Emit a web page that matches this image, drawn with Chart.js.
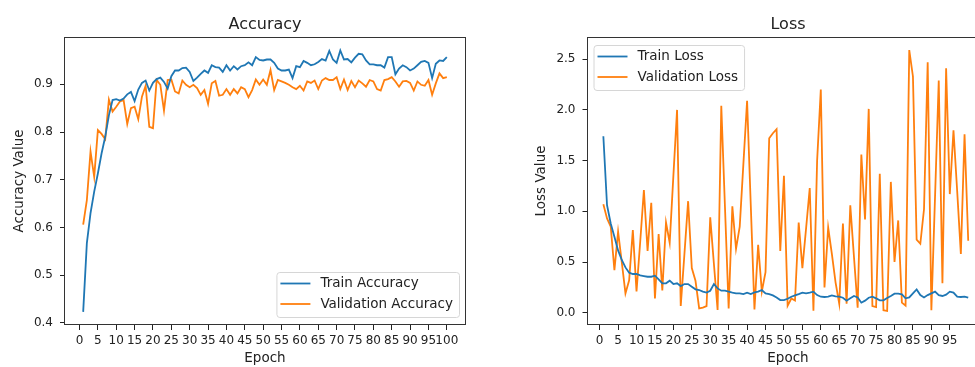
<!DOCTYPE html>
<html>
<head>
<meta charset="utf-8">
<script src="https://cdn.jsdelivr.net/npm/chart.js@4.4.1/dist/chart.umd.min.js"></script>
<style>
  html, body { margin: 0; padding: 0; background: #fff; overflow: hidden; }
  #wrap { position: relative; width: 975px; height: 367px; overflow: hidden; }
  canvas { position: absolute; top: 0; }
  #accChart { left: 0; }
  #lossChart { left: 490px; }
</style>
</head>
<body>
<div id="wrap">
  <canvas id="accChart" width="480" height="367"></canvas>
  <canvas id="lossChart" width="510" height="367"></canvas>
</div>
<script>
// epoch numbers (x values)
const epochs = [
  1, 2, 3, 4, 5, 6, 7, 8, 9, 10, 11, 12, 13, 14, 15, 16, 17, 18, 19, 20,
  21, 22, 23, 24, 25, 26, 27, 28, 29, 30, 31, 32, 33, 34, 35, 36, 37, 38, 39, 40,
  41, 42, 43, 44, 45, 46, 47, 48, 49, 50, 51, 52, 53, 54, 55, 56, 57, 58, 59, 60,
  61, 62, 63, 64, 65, 66, 67, 68, 69, 70, 71, 72, 73, 74, 75, 76, 77, 78, 79, 80,
  81, 82, 83, 84, 85, 86, 87, 88, 89, 90, 91, 92, 93, 94, 95, 96, 97, 98, 99, 100
];

// values
const trainAcc = [
  0.423, 0.567, 0.630, 0.675, 0.713, 0.755, 0.790, 0.835, 0.867, 0.869,
  0.866, 0.870, 0.879, 0.884, 0.865, 0.889, 0.903, 0.908, 0.887, 0.903,
  0.911, 0.914, 0.905, 0.891, 0.917, 0.929, 0.929, 0.934, 0.935, 0.926,
  0.907, 0.914, 0.922, 0.929, 0.924, 0.940, 0.936, 0.935, 0.926, 0.940,
  0.929, 0.938, 0.931, 0.938, 0.940, 0.946, 0.940, 0.957, 0.951, 0.950,
  0.952, 0.952, 0.945, 0.933, 0.929, 0.929, 0.931, 0.913, 0.938, 0.936,
  0.949, 0.945, 0.940, 0.942, 0.947, 0.953, 0.950, 0.970, 0.952, 0.945,
  0.971, 0.952, 0.953, 0.946, 0.956, 0.964, 0.963, 0.950, 0.942, 0.942,
  0.940, 0.940, 0.935, 0.957, 0.957, 0.921, 0.933, 0.940, 0.936, 0.929,
  0.933, 0.940, 0.947, 0.949, 0.945, 0.913, 0.943, 0.950, 0.949, 0.957
];
const valAcc = [
  0.606, 0.657, 0.759, 0.706, 0.804, 0.796, 0.785, 0.868, 0.843, 0.853,
  0.864, 0.867, 0.817, 0.850, 0.853, 0.827, 0.874, 0.897, 0.811, 0.808,
  0.909, 0.899, 0.845, 0.909, 0.910, 0.885, 0.881, 0.908, 0.899, 0.894,
  0.899, 0.892, 0.878, 0.888, 0.859, 0.902, 0.907, 0.876, 0.878, 0.890,
  0.878, 0.890, 0.881, 0.894, 0.890, 0.873, 0.888, 0.910, 0.899, 0.910,
  0.899, 0.930, 0.888, 0.909, 0.906, 0.903, 0.899, 0.894, 0.890, 0.897,
  0.887, 0.906, 0.903, 0.908, 0.890, 0.908, 0.913, 0.909, 0.909, 0.915,
  0.890, 0.910, 0.888, 0.907, 0.894, 0.908, 0.902, 0.895, 0.909, 0.906,
  0.890, 0.887, 0.909, 0.911, 0.915, 0.906, 0.895, 0.906, 0.907, 0.903,
  0.887, 0.906, 0.899, 0.897, 0.909, 0.878, 0.902, 0.923, 0.913, 0.915
];
const trainLoss = [
  1.740, 1.060, 0.880, 0.750, 0.615, 0.520, 0.447, 0.395, 0.382, 0.382,
  0.368, 0.362, 0.355, 0.355, 0.365, 0.329, 0.290, 0.290, 0.316, 0.283,
  0.290, 0.263, 0.283, 0.283, 0.257, 0.231, 0.224, 0.208, 0.198, 0.217,
  0.283, 0.240, 0.217, 0.217, 0.208, 0.198, 0.191, 0.191, 0.184, 0.198,
  0.184, 0.201, 0.208, 0.224, 0.191, 0.184, 0.171, 0.151, 0.125, 0.125,
  0.138, 0.158, 0.171, 0.184, 0.198, 0.191, 0.198, 0.208, 0.174, 0.158,
  0.155, 0.158, 0.171, 0.161, 0.158, 0.148, 0.119, 0.142, 0.165, 0.151,
  0.099, 0.119, 0.148, 0.158, 0.142, 0.122, 0.122, 0.145, 0.165, 0.188,
  0.188, 0.181, 0.142, 0.151, 0.191, 0.230, 0.174, 0.151, 0.174, 0.191,
  0.208, 0.174, 0.165, 0.178, 0.208, 0.198, 0.158, 0.155, 0.158, 0.148
];
const valLoss = [
  1.07, 0.93, 0.85, 0.42, 0.80, 0.50, 0.19, 0.32, 0.815, 0.21,
  0.70, 1.21, 0.61, 1.085, 0.14, 0.775, 0.22, 0.89, 0.69, 1.35,
  2.00, 0.066, 0.58, 1.10, 0.44, 0.315, 0.043, 0.05, 0.066, 0.94,
  0.48, 0.027, 2.04, 1.04, 0.043, 1.05, 0.63, 0.85, 1.47, 2.09,
  1.06, 0.033, 0.67, 0.21, 0.40, 1.72, 1.77, 1.81, 0.61, 1.35,
  0.07, 0.14, 0.12, 0.89, 0.44, 0.83, 1.23, 0.02, 1.50, 2.20,
  0.25, 0.84, 0.58, 0.30, 0.09, 0.88, 0.09, 1.06, 0.55, 0.05,
  1.56, 0.92, 2.01, 0.065, 0.055, 1.37, 0.025, 0.017, 1.29, 0.50,
  0.91, 0.10, 0.07, 2.59, 2.33, 0.72, 0.68, 1.02, 2.47, 0.025,
  1.15, 2.29, 0.29, 2.41, 1.17, 1.80, 1.20, 0.58, 1.76, 0.71
];

// tick labels
const accXTicks = [0, 5, 10, 15, 20, 25, 30, 35, 40, 45, 50, 55, 60, 65, 70, 75, 80, 85, 90, 95, 100];
const lossXTicks = [0, 5, 10, 15, 20, 25, 30, 35, 40, 45, 50, 55, 60, 65, 70, 75, 80, 85, 90, 95];
const accYTicks = [0.4, 0.5, 0.6, 0.7, 0.8, 0.9];
const lossYTicks = [0.0, 0.5, 1.0, 1.5, 2.0, 2.5];

const FONT = '"DejaVu Sans", sans-serif';
const TEXT = '#222';
const BLUE = '#1f77b4';
const ORANGE = '#ff7f0e';

// box around the plot area, like matplotlib spines
const frame = {
  id: 'frame',
  afterDraw(chart) {
    const { ctx, chartArea: a } = chart;
    ctx.save();
    ctx.strokeStyle = '#333';
    ctx.lineWidth = 1;
    ctx.strokeRect(Math.round(a.left) - 0.5, Math.round(a.top) + 0.5,
      Math.round(a.right - a.left) + 1, Math.round(a.bottom - a.top) - 1);
    ctx.restore();
  }
};

// legend drawn inside the axes box
const boxLegend = {
  id: 'boxLegend',
  afterDraw(chart, args, opts) {
    const { ctx, chartArea: a } = chart;
    const items = chart.data.datasets;
    ctx.save();
    ctx.font = '13.5px ' + FONT;
    const textW = Math.max(...items.map(d => ctx.measureText(d.label).width));
    const w = 4 + 30 + 10 + textW + 6;
    const h = 45;
    const x = opts.corner === 'lower right' ? a.right - 6 - w : a.left + 6;
    const y = opts.corner === 'lower right' ? a.bottom - 8 - h : a.top + 8;
    ctx.beginPath();
    ctx.roundRect(x + 0.5, y + 0.5, w, h, 3);
    ctx.fillStyle = 'rgba(255,255,255,0.8)';
    ctx.fill();
    ctx.strokeStyle = '#d6d6d6';
    ctx.lineWidth = 1;
    ctx.stroke();
    items.forEach((d, i) => {
      const cy = y + 11.5 + i * 20.5;
      ctx.beginPath();
      ctx.moveTo(x + 4, cy);
      ctx.lineTo(x + 34, cy);
      ctx.strokeStyle = d.borderColor;
      ctx.lineWidth = 1.8;
      ctx.stroke();
      ctx.fillStyle = TEXT;
      ctx.textBaseline = 'middle';
      ctx.textAlign = 'left';
      ctx.fillText(d.label, x + 44, cy);
    });
    ctx.restore();
  }
};

function makeChart(el, cfg) {
  return new Chart(el, {
    type: 'line',
    data: {
      datasets: cfg.series.map(s => ({
        label: s.label,
        data: epochs.map((e, i) => ({ x: e, y: s.values[i] })),
        borderColor: s.color,
        backgroundColor: s.color,
        borderWidth: 1.8,
        pointRadius: 0,
        tension: 0,
        fill: false
      }))
    },
    options: {
      responsive: false,
      animation: false,
      events: [],
      layout: { padding: { left: 0, right: cfg.padRight, top: 0, bottom: 0 } },
      plugins: {
        legend: { display: false },
        tooltip: { enabled: false },
        title: {
          display: true, text: cfg.title, fullSize: false, color: TEXT,
          font: { family: FONT, size: 16, weight: 'normal' },
          padding: { top: 14.9, bottom: 2.9 }
        },
        boxLegend: { corner: cfg.legendCorner }
      },
      scales: {
        x: {
          type: 'linear', min: cfg.xMin, max: cfg.xMax,
          afterFit: s => { s.height = 42; },
          afterBuildTicks: s => { s.ticks = cfg.xTicks.map(v => ({ value: v })); },
          ticks: {
            autoSkip: false, maxRotation: 0, minRotation: 0, padding: 4,
            color: TEXT, font: { family: FONT, size: 12 },
            callback: v => String(v)
          },
          grid: { display: true, drawOnChartArea: false, drawTicks: true, tickLength: 5, tickColor: '#222' },
          border: { display: false },
          title: { display: true, text: 'Epoch', color: TEXT, font: { family: FONT, size: 13.5 }, padding: { top: 0, bottom: 0 } }
        },
        y: {
          type: 'linear', min: cfg.yMin, max: cfg.yMax,
          afterFit: s => { s.width = cfg.yWidth; },
          afterBuildTicks: s => { s.ticks = cfg.yTicks.map(v => ({ value: v })); },
          ticks: {
            padding: 7, color: TEXT, font: { family: FONT, size: 12 },
            callback: v => Number(v).toFixed(1)
          },
          grid: { display: true, drawOnChartArea: false, drawTicks: true, tickLength: 5, tickColor: '#222' },
          border: { display: false },
          title: { display: true, text: cfg.yLabel, color: TEXT, font: { family: FONT, size: 13.5 }, padding: { top: cfg.yTitlePad, bottom: 0 } }
        }
      }
    },
    plugins: [frame, boxLegend]
  });
}

makeChart(document.getElementById('accChart'), {
  title: 'Accuracy',
  yLabel: 'Accuracy Value',
  series: [
    { label: 'Train Accuracy', values: trainAcc, color: BLUE },
    { label: 'Validation Accuracy', values: valAcc, color: ORANGE }
  ],
  xTicks: accXTicks, yTicks: accYTicks,
  xMin: -3.95, xMax: 104.95, yMin: 0.3954, yMax: 0.9992,
  yWidth: 65, padRight: 15, yTitlePad: 10.9,
  legendCorner: 'lower right'
});

makeChart(document.getElementById('lossChart'), {
  title: 'Loss',
  yLabel: 'Loss Value',
  series: [
    { label: 'Train Loss', values: trainLoss, color: BLUE },
    { label: 'Validation Loss', values: valLoss, color: ORANGE }
  ],
  xTicks: lossXTicks, yTicks: lossYTicks,
  xMin: -3.3, xMax: 105.5, yMin: -0.121, yMax: 2.719,
  yWidth: 97.5, padRight: 11.5, yTitlePad: 42.9,
  legendCorner: 'upper left'
});
</script>
</body>
</html>
